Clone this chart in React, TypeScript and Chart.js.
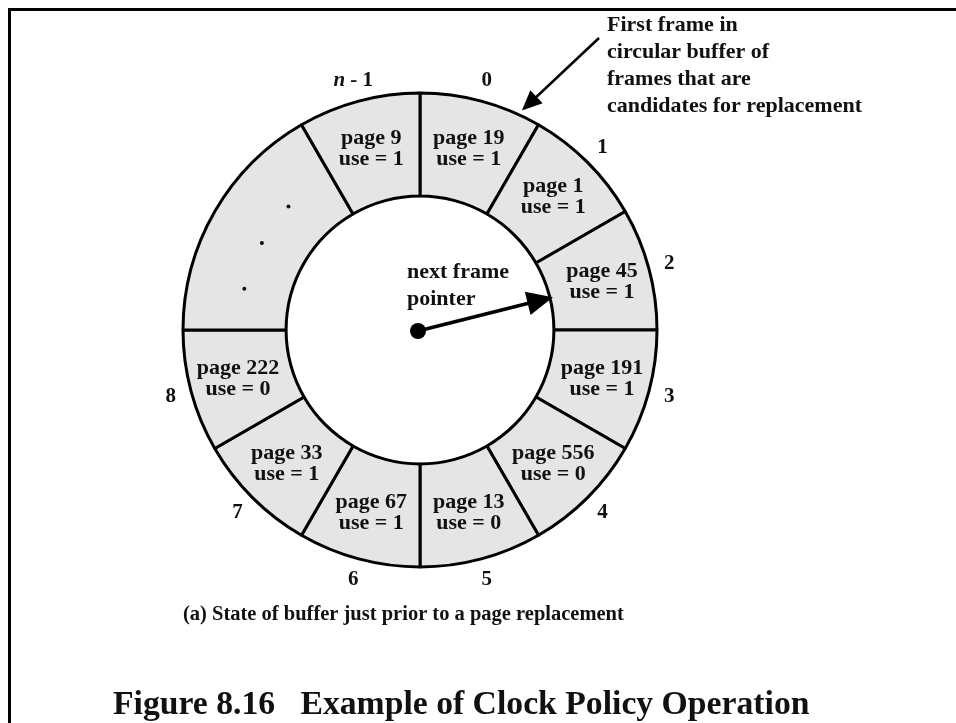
import React, { useEffect, useRef } from 'react';
import { Chart, registerables } from 'chart.js';

Chart.register(...registerables);

// ---- data ----
const frameLabels = ['0', '1', '2', '3', '4', '5', '6', '7', '8', '', 'n - 1'];
const pageNumbers: (number | null)[] = [19, 1, 45, 191, 556, 13, 67, 33, 222, null, 9];
const useBits: (number | null)[] = [1, 1, 1, 1, 0, 0, 1, 1, 0, null, 1];
const slotSpan = [1, 1, 1, 1, 1, 1, 1, 1, 1, 2, 1];
const pointerFrame = 2;
const firstFrame = 0;
const annotationLines = ['First frame in', 'circular buffer of', 'frames that are', 'candidates for replacement'];
const pointerLines = ['next frame', 'pointer'];
const captionText = '(a) State of buffer just prior to a page replacement';
const titleText = 'Figure 8.16   Example of Clock Policy Operation';

const SERIF = '"Liberation Serif", "Times New Roman", Times, serif';

function arrowHead(ctx: CanvasRenderingContext2D, tx: number, ty: number, ang: number, len: number, half: number) {
  const bx = tx - Math.cos(ang) * len;
  const by = ty - Math.sin(ang) * len;
  const px = -Math.sin(ang) * half;
  const py = Math.cos(ang) * half;
  ctx.beginPath();
  ctx.moveTo(tx, ty);
  ctx.lineTo(bx + px, by + py);
  ctx.lineTo(bx - px, by - py);
  ctx.closePath();
  ctx.fill();
}

const overlayPlugin = {
  id: 'clockOverlay',
  beforeDraw(chart: any) {
    const ctx = chart.ctx as CanvasRenderingContext2D;
    ctx.save();
    ctx.fillStyle = '#fff';
    ctx.fillRect(0, 0, chart.width, chart.height);
    ctx.strokeStyle = '#000';
    ctx.lineWidth = 3;
    ctx.beginPath();
    ctx.moveTo(9.5, chart.height);
    ctx.lineTo(9.5, 9.5);
    ctx.lineTo(chart.width, 9.5);
    ctx.stroke();
    ctx.restore();
  },
  afterDatasetsDraw(chart: any) {
    const ctx = chart.ctx as CanvasRenderingContext2D;
    const arcs = chart.getDatasetMeta(0).data;
    ctx.save();
    ctx.fillStyle = '#111';
    ctx.textAlign = 'center';
    ctx.textBaseline = 'middle';

    arcs.forEach((arc: any, i: number) => {
      const p = arc.getProps(['x', 'y', 'startAngle', 'endAngle', 'innerRadius', 'outerRadius'], true);
      const mid = (p.startAngle + p.endAngle) / 2;
      const rMid = (p.innerRadius + p.outerRadius) / 2 + 3;
      if (pageNumbers[i] !== null) {
        const cx = p.x + Math.cos(mid) * rMid;
        const cy = p.y + Math.sin(mid) * rMid;
        ctx.font = `bold 22px ${SERIF}`;
        ctx.fillText(`page ${pageNumbers[i]}`, cx, cy - 10);
        ctx.fillText(`use = ${useBits[i]}`, cx, cy + 11);
      } else {
        const fr = [0.22, 0.48, 0.72];
        fr.forEach((f) => {
          const a = p.startAngle + (p.endAngle - p.startAngle) * f;
          const r = (p.innerRadius + p.outerRadius) / 2 - 5;
          ctx.beginPath();
          ctx.arc(p.x + Math.cos(a) * r, p.y + Math.sin(a) * r, 2, 0, Math.PI * 2);
          ctx.fill();
        });
      }
      // frame number outside
      const lbl = frameLabels[i];
      if (lbl) {
        const ro = p.outerRadius + 21;
        const lx = p.x + Math.cos(mid) * ro;
        const ly = p.y + Math.sin(mid) * ro;
        if (lbl.startsWith('n')) {
          ctx.font = `italic bold 21px ${SERIF}`;
          const wN = ctx.measureText('n').width;
          ctx.font = `bold 21px ${SERIF}`;
          const rest = lbl.slice(1);
          const wR = ctx.measureText(rest).width;
          const start = lx - (wN + wR) / 2;
          ctx.textAlign = 'left';
          ctx.font = `italic bold 21px ${SERIF}`;
          ctx.fillText('n', start, ly);
          ctx.font = `bold 21px ${SERIF}`;
          ctx.fillText(rest, start + wN, ly);
          ctx.textAlign = 'center';
        } else {
          ctx.font = `bold 21px ${SERIF}`;
          ctx.fillText(lbl, lx, ly);
        }
      }
    });

    // next frame pointer
    const pa = arcs[pointerFrame].getProps(['x', 'y', 'startAngle', 'endAngle', 'innerRadius'], true);
    const pAng = (pa.startAngle + pa.endAngle) / 2 + 0.02;
    const tipR = pa.innerRadius + 3;
    const tx = pa.x + Math.cos(pAng) * tipR;
    const ty = pa.y + Math.sin(pAng) * tipR;
    ctx.fillStyle = '#000';
    ctx.strokeStyle = '#000';
    ctx.beginPath();
    ctx.arc(pa.x - 2, pa.y + 1, 8, 0, Math.PI * 2);
    ctx.fill();
    ctx.lineWidth = 3.5;
    ctx.beginPath();
    ctx.moveTo(pa.x - 2, pa.y + 1);
    ctx.lineTo(tx - Math.cos(pAng) * 20, ty - Math.sin(pAng) * 20);
    ctx.stroke();
    arrowHead(ctx, tx, ty, pAng, 26, 12);

    ctx.fillStyle = '#111';
    ctx.textAlign = 'left';
    ctx.font = `bold 22px ${SERIF}`;
    ctx.fillText(pointerLines[0], pa.x - 13, pa.y - 58);
    ctx.fillText(pointerLines[1], pa.x - 13, pa.y - 31);

    // first-frame annotation
    const fa = arcs[firstFrame].getProps(['x', 'y', 'startAngle', 'endAngle', 'outerRadius'], true);
    const aAng = fa.startAngle + (fa.endAngle - fa.startAngle) * 0.83;
    const ar = fa.outerRadius + 5;
    const ax = fa.x + Math.cos(aAng) * ar;
    const ay = fa.y + Math.sin(aAng) * ar;
    const textX = 607;
    const textY0 = 25;
    const tailX = textX - 8;
    const tailY = textY0 + 13;
    const dirAng = Math.atan2(ay - tailY, ax - tailX);
    ctx.fillStyle = '#000';
    ctx.lineWidth = 2.5;
    ctx.beginPath();
    ctx.moveTo(tailX, tailY);
    ctx.lineTo(ax - Math.cos(dirAng) * 15, ay - Math.sin(dirAng) * 15);
    ctx.stroke();
    arrowHead(ctx, ax, ay, dirAng, 20, 9);

    ctx.fillStyle = '#111';
    ctx.font = `bold 22px ${SERIF}`;
    annotationLines.forEach((t, k) => ctx.fillText(t, textX, textY0 + k * 27));

    // caption + title
    ctx.font = `bold 20.5px ${SERIF}`;
    ctx.fillText(captionText, 183, 615);
    ctx.font = `bold 33.7px ${SERIF}`;
    ctx.fillText(titleText, 113, 705);

    ctx.restore();
  },
};

export default function App() {
  const canvasRef = useRef<HTMLCanvasElement | null>(null);

  useEffect(() => {
    if (!canvasRef.current) return;
    const chart = new Chart(canvasRef.current, {
      type: 'doughnut',
      data: {
        labels: frameLabels,
        datasets: [
          {
            data: slotSpan,
            backgroundColor: '#e5e5e5',
            borderColor: '#000',
            borderWidth: 3,
            hoverOffset: 0,
          },
        ],
      },
      options: {
        responsive: false,
        animation: false,
        events: [],
        radius: 237,
        cutout: '56.5%',
        layout: { padding: { left: 0, right: 116, top: 0, bottom: 63 } },
        plugins: {
          legend: { display: false },
          tooltip: { enabled: false },
        },
      } as any,
      plugins: [overlayPlugin],
    });
    return () => chart.destroy();
  }, []);

  return (
    <div style={{ position: 'absolute', left: 0, top: 0, width: 956, height: 723, background: '#fff' }}>
      <canvas ref={canvasRef} width={956} height={723} style={{ display: 'block' }} />
    </div>
  );
}
